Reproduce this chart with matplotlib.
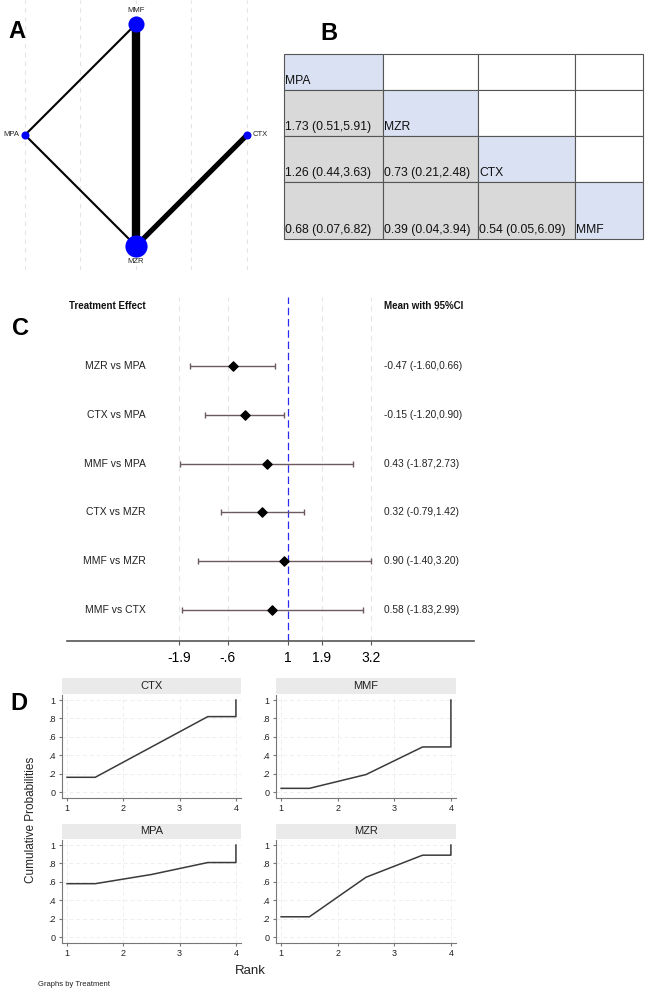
import numpy as np
import matplotlib
matplotlib.use('Agg')
import matplotlib.pyplot as plt
from matplotlib.patches import Rectangle

plt.rcParams['font.family'] = ['Liberation Sans', 'DejaVu Sans']

W, H = 646, 991

# ---- data ----
# A: network
treatments = ['MMF', 'MPA', 'MZR', 'CTX']
node_size = [8, 4, 11, 4]            # node radius (relative)
edges = [('MMF', 'MZR'), ('MZR', 'CTX'), ('MPA', 'MMF'), ('MPA', 'MZR')]
edge_weight = [8, 5, 2, 2]

# B: league table (lower triangle)
league_names = ['MPA', 'MZR', 'CTX', 'MMF']
league_vals = [
    [],
    ['1.73 (0.51,5.91)'],
    ['1.26 (0.44,3.63)', '0.73 (0.21,2.48)'],
    ['0.68 (0.07,6.82)', '0.39 (0.04,3.94)', '0.54 (0.05,6.09)'],
]

# C: forest plot
comparisons = ['MZR vs MPA', 'CTX vs MPA', 'MMF vs MPA', 'CTX vs MZR', 'MMF vs MZR', 'MMF vs CTX']
means = [-0.47, -0.15, 0.43, 0.32, 0.90, 0.58]
lower = [-1.60, -1.20, -1.87, -0.79, -1.40, -1.83]
upper = [0.66, 0.90, 2.73, 1.42, 3.20, 2.99]
forest_ticks = [-1.9, -0.6, 1, 1.9, 3.2]
forest_ticklabels = ['-1.9', '-.6', '1', '1.9', '3.2']

# D: cumulative rank probabilities (ranks 1..4)
rank_treat = ['CTX', 'MMF', 'MPA', 'MZR']
ranks = [1, 2, 3, 4]
cumprob = {
    'CTX': [0.16, 0.49, 0.82, 1.0],
    'MMF': [0.04, 0.19, 0.49, 1.0],
    'MPA': [0.58, 0.68, 0.81, 1.0],
    'MZR': [0.22, 0.65, 0.89, 1.0],
}


def px(l, t, r, b):
    return [l / W, 1 - b / H, (r - l) / W, (b - t) / H]


fig = plt.figure(figsize=(W / 100, H / 100), dpi=100)
fig.patch.set_facecolor('white')

# ---------------- A ----------------
axA = fig.add_axes(px(0, 0, 290, 270))
axA.set_xlim(-136 / 111, 154 / 111)
axA.set_ylim(-135 / 111, 135 / 111)
axA.axis('off')
for gx in [-1, -0.5, 0, 0.5, 1]:
    axA.axvline(gx, color='#e4e4e4', lw=0.8, ls=(0, (4, 4)), zorder=0)
angles = {'MMF': 90, 'MPA': 180, 'MZR': 270, 'CTX': 0}
pos = {t: (np.cos(np.radians(angles[t])), np.sin(np.radians(angles[t]))) for t in treatments}
for (a, b), w in zip(edges, edge_weight):
    axA.plot([pos[a][0], pos[b][0]], [pos[a][1], pos[b][1]], color='black', lw=w * 0.75,
             solid_capstyle='butt', zorder=1)
for t, s in zip(treatments, node_size):
    axA.scatter(*pos[t], s=(s * 1.45) ** 2, color='#0000ff', zorder=3, linewidths=0)
lab_off = {'MMF': (0, 0.09, 'center', 'bottom'), 'MZR': (0, -0.11, 'center', 'top'),
           'MPA': (-0.05, 0, 'right', 'center'), 'CTX': (0.05, 0, 'left', 'center')}
for t in treatments:
    dx, dy, ha, va = lab_off[t]
    axA.text(pos[t][0] + dx, pos[t][1] + dy, t, ha=ha, va=va, fontsize=5.5, color='#222222')
fig.text(8 / W, 1 - 38 / H, 'A', fontsize=17, fontweight='bold')

# ---------------- B ----------------
fig.text(320 / W, 1 - 40 / H, 'B', fontsize=17, fontweight='bold')
col_edges = [284, 383, 478, 575, 643]
row_edges = [54, 90, 136, 182, 239]
axB = fig.add_axes(px(0, 0, W, H))
axB.set_xlim(0, W)
axB.set_ylim(H, 0)
axB.axis('off')
n = len(league_names)
for i in range(n):
    for j in range(n):
        x0, x1 = col_edges[j], col_edges[j + 1]
        y0, y1 = row_edges[i], row_edges[i + 1]
        if i == j:
            fc = '#d9e1f2'
            txt = league_names[i]
        elif j < i:
            fc = '#d9d9d9'
            txt = league_vals[i][j]
        else:
            fc = 'white'
            txt = ''
        axB.add_patch(Rectangle((x0, y0), x1 - x0, y1 - y0, facecolor=fc,
                                edgecolor='#555555', lw=0.8))
        if txt:
            axB.text(x0 + 1, y1 - 3, txt, ha='left', va='bottom', fontsize=8.7, color='#111111')

# ---------------- C ----------------
fig.text(12 / W, 1 - 335 / H, 'C', fontsize=17, fontweight='bold')
axC = fig.add_axes(px(67, 297, 474, 641))
ppu = 37.6
axC.set_xlim(1 - (288 - 67) / ppu, 1 + (474 - 288) / ppu)
y_top = -(366 - 297) / 48.8
y_bot = (641 - 366) / 48.8
axC.set_ylim(y_bot, y_top)
for s in ['top', 'right', 'left']:
    axC.spines[s].set_visible(False)
axC.spines['bottom'].set_color('#555555')
axC.spines['bottom'].set_linewidth(1.2)
axC.set_yticks([])
axC.set_xticks(forest_ticks)
axC.set_xticklabels(forest_ticklabels, fontsize=10)
axC.tick_params(axis='x', length=3, color='#555555', pad=4)
for t in forest_ticks:
    if t != 1:
        axC.axvline(t, color='#e6e6e6', lw=0.8, ls=(0, (5, 4)), zorder=0)
axC.axvline(1, color='#2a2af0', lw=0.9, ls=(0, (6, 3)), zorder=1)
yy = np.arange(len(comparisons))
for k in range(len(comparisons)):
    axC.errorbar(means[k], yy[k], xerr=[[means[k] - lower[k]], [upper[k] - means[k]]],
                 fmt='none', ecolor='#6b5a5e', elinewidth=1.0, capsize=2, capthick=1.0, zorder=2)
axC.scatter(means, yy, marker='D', s=22, color='black', zorder=3)
x_lab = 1 + (146 - 288) / ppu
x_val = 1 + (384 - 288) / ppu
for k, c in enumerate(comparisons):
    axC.text(x_lab, yy[k], c, ha='right', va='center', fontsize=7.5, color='#222222')
    axC.text(x_val, yy[k], '%.2f (%.2f,%.2f)' % (means[k], lower[k], upper[k]),
             ha='left', va='center', fontsize=7.3, color='#222222')
y_head = -(366 - 306) / 48.8
axC.text(x_lab, y_head, 'Treatment Effect', ha='right', va='center', fontsize=7,
         fontweight='bold', color='#111111')
axC.text(x_val, y_head, 'Mean with 95%CI', ha='left', va='center', fontsize=7,
         fontweight='bold', color='#111111')

# ---------------- D ----------------
fig.text(10 / W, 1 - 710 / H, 'D', fontsize=17, fontweight='bold')
panel_x = [(62, 241), (276, 456)]
panel_y = [(678, 694, 798), (824, 839, 943)]   # strip top, strip bottom/axes top, axes bottom
xs = [ranks[0]] + [r + 0.5 for r in ranks[:-1]] + [ranks[-1], ranks[-1]]
for idx, t in enumerate(rank_treat):
    r, c = divmod(idx, 2)
    l, rr = panel_x[c]
    st, sb, ab = panel_y[r]
    strip = fig.add_axes(px(l, st, rr, sb))
    strip.set_facecolor('#eaeaea')
    strip.set_xticks([])
    strip.set_yticks([])
    for s in strip.spines.values():
        s.set_visible(False)
    strip.text(0.5, 0.5, t, ha='center', va='center', fontsize=8, color='#222222',
               transform=strip.transAxes)
    ax = fig.add_axes(px(l, sb + 1, rr, ab))
    ax.set_xlim(0.91, 4.09)
    ax.set_ylim(-0.065, 1.055)
    p = cumprob[t]
    ys = [p[0], p[0], p[1], p[2], p[2], p[3]]
    ax.plot(xs, ys, color='#3a3a3a', lw=1.1)
    for s in ['top', 'right']:
        ax.spines[s].set_visible(False)
    for s in ['left', 'bottom']:
        ax.spines[s].set_color('#777777')
        ax.spines[s].set_linewidth(0.8)
    ax.set_yticks([0, 0.2, 0.4, 0.6, 0.8, 1])
    ax.set_yticklabels(['0', '.2', '.4', '.6', '.8', '1'])
    ax.set_xticks(ranks)
    ax.tick_params(labelsize=6.5, length=2.5, color='#777777', pad=2, labelcolor='#222222')
    ax.grid(True, color='#eeeeee', ls=(0, (4, 3)), lw=0.7)
    ax.set_axisbelow(True)

fig.text(250 / W, 1 - 971 / H, 'Rank', ha='center', va='center', fontsize=9.5, color='#222222')
fig.text(31 / W, 1 - 820 / H, 'Cumulative Probabilities', ha='center', va='center',
         rotation=90, fontsize=8.5, color='#222222')
fig.text(38 / W, 1 - 984 / H, 'Graphs by Treatment', ha='left', va='center', fontsize=5.5,
         color='#222222')

fig.savefig('out.png', dpi=100)
